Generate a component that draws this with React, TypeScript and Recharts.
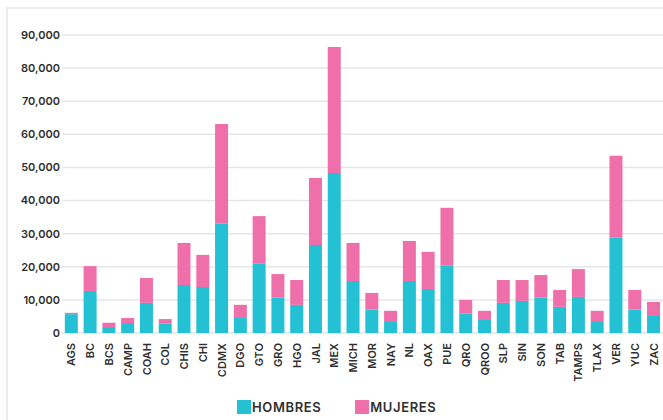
import React from "react";
import { BarChart, Bar, XAxis, YAxis, CartesianGrid } from "recharts";

const categories = ["AGS","BC","BCS","CAMP","COAH","COL","CHIS","CHI","CDMX","DGO","GTO","GRO","HGO","JAL","MEX","MICH","MOR","NAY","NL","OAX","PUE","QRO","QROO","SLP","SIN","SON","TAB","TAMPS","TLAX","VER","YUC","ZAC"];
const hombres = [5700,12700,1800,3000,9100,2800,14500,13900,33000,4800,20900,10700,8500,26600,48300,15700,7100,3600,15700,13300,20300,5800,4200,9100,9700,10700,7900,10900,3600,28800,7100,5400];
const totales = [6100,20200,3100,4500,16600,4200,27200,23600,63100,8500,35300,17800,16000,46800,86400,27200,12100,6700,27800,24500,37800,10000,6700,16000,16000,17500,13000,19300,6700,53500,13000,9400];
const mujeres = totales.map((t, i) => t - hombres[i]);
const yTicks = [0,10000,20000,30000,40000,50000,60000,70000,80000,90000];
const seriesNames = ["HOMBRES", "MUJERES"];
const colors = ["#24C0D3", "#EE6FA9"];

const data = categories.map((c, i) => ({ name: c, hombres: hombres[i], mujeres: mujeres[i] }));

const FONT = "Inter, 'Open Sans', sans-serif";

const XTick = (props: any) => {
  const { x, y, payload } = props;
  return (
    <text
      x={x}
      y={y}
      transform={`rotate(-90, ${x}, ${y})`}
      textAnchor="end"
      dy={4}
      fontFamily={FONT}
      fontSize={11}
      fontWeight={600}
      fill="#2f2f2f"
    >
      {payload.value}
    </text>
  );
};

export default function App() {
  return (
    <div style={{ position: "absolute", left: 0, top: 0, width: 663, height: 420, overflow: "hidden", background: "#fff" }}>
      <div style={{ position: "absolute", left: 6, top: 7, width: 700, height: 500, border: "2px solid #ececec", boxSizing: "border-box" }} />
      <div style={{ position: "absolute", left: 0, top: 0 }}>
        <BarChart
          width={663}
          height={420}
          data={data}
          margin={{ top: 35, right: 0, left: 0, bottom: 0 }}
          barCategoryGap="15%"
        >
          <CartesianGrid vertical={false} stroke="#e6e6e6" strokeWidth={1.5} />
          <XAxis
            dataKey="name"
            interval={0}
            height={87}
            axisLine={false}
            tickLine={false}
            tickSize={0}
            tickMargin={10}
            tick={<XTick />}
          />
          <YAxis
            width={62}
            domain={[0, 90000]}
            ticks={yTicks}
            axisLine={false}
            tickLine={false}
            tickSize={0}
            tickMargin={2}
            tickFormatter={(v: number) => v.toLocaleString("en-US")}
            tick={{ fontFamily: FONT, fontSize: 11, fontWeight: 600, fill: "#2f2f2f" }}
          />
          <Bar dataKey="hombres" stackId="a" fill={colors[0]} isAnimationActive={false} />
          <Bar dataKey="mujeres" stackId="a" fill={colors[1]} isAnimationActive={false} />
        </BarChart>
      </div>
      <div style={{ position: "absolute", top: 399, left: 237, display: "flex", alignItems: "center", fontFamily: FONT, fontSize: 13, fontWeight: 600, color: "#2f2f2f", letterSpacing: 0.6 }}>
        <span style={{ display: "inline-block", width: 14, height: 14, background: colors[0] }} />
        <span style={{ marginLeft: 1 }}>{seriesNames[0]}</span>
        <span style={{ display: "inline-block", width: 14, height: 14, background: colors[1], marginLeft: 34 }} />
        <span style={{ marginLeft: 1 }}>{seriesNames[1]}</span>
      </div>
    </div>
  );
}
